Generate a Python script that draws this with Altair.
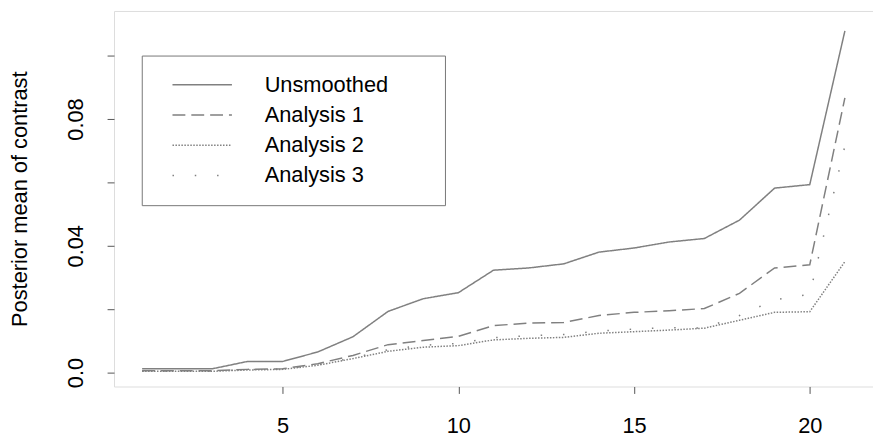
import altair as alt
import pandas as pd

# ---- data ----
index = list(range(1, 22))
series_names = ["Unsmoothed", "Analysis 1", "Analysis 2", "Analysis 3"]
unsmoothed = [0.0012, 0.0012, 0.0012, 0.0035, 0.0035, 0.0065, 0.0113, 0.0193, 0.0233, 0.0252,
              0.0323, 0.0330, 0.0343, 0.0380, 0.0393, 0.0412, 0.0423, 0.0481, 0.0582, 0.0593, 0.1078]
analysis1 = [0.0006, 0.0006, 0.0006, 0.0010, 0.0012, 0.0028, 0.0054, 0.0088, 0.0101, 0.0114,
             0.0148, 0.0156, 0.0158, 0.0180, 0.0190, 0.0195, 0.0202, 0.0250, 0.0330, 0.0340, 0.0867]
analysis2 = [0.0004, 0.0004, 0.0004, 0.0008, 0.0010, 0.0023, 0.0044, 0.0067, 0.0080, 0.0085,
             0.0103, 0.0108, 0.0111, 0.0124, 0.0129, 0.0134, 0.0140, 0.0165, 0.0190, 0.0192, 0.0350]
analysis3 = [0.0005, 0.0005, 0.0005, 0.0009, 0.0011, 0.0025, 0.0046, 0.0072, 0.0086, 0.0092,
             0.0110, 0.0116, 0.0120, 0.0131, 0.0137, 0.0142, 0.0140, 0.0180, 0.0229, 0.0247, 0.0715]
y_tick_values = [0.0, 0.02, 0.04, 0.06, 0.08, 0.10]
y_labelled = ["0.0", "0.04", "0.08"]
x_tick_values = [5, 10, 15, 20]

rows = []
for name, vals in zip(series_names, [unsmoothed, analysis1, analysis2, analysis3]):
    for i, v in zip(index, vals):
        rows.append({"index": i, "value": v, "series": name})
df = pd.DataFrame(rows)

FONT = "Liberation Sans"
GREY = "#808080"
PAD = "\u00a0\u2800\u2800"  # blank glyphs: widen the legend box to the right

y_label_expr = (
    "indexof(" + str(y_labelled) + ", datum.value == 0 ? '0.0' : format(datum.value, '.2f')) >= 0"
    " ? (datum.value == 0 ? '0.0' : format(datum.value, '.2f')) : ''"
)

lines = alt.Chart(df).mark_line(strokeWidth=1.5, color=GREY).encode(
    x=alt.X("index:Q",
            scale=alt.Scale(domain=[0.2, 21.8], nice=False, zero=False),
            axis=alt.Axis(values=x_tick_values, title=None, grid=False, domain=False,
                          tickSize=7, tickColor="#555", labelFontSize=22, labelFont=FONT,
                          labelColor="black", labelPadding=39, labelBaseline="alphabetic",
                          labelFlush=False)),
    y=alt.Y("value:Q",
            scale=alt.Scale(domain=[-0.0044, 0.1141], nice=False, zero=False),
            axis=alt.Axis(values=y_tick_values, title="Posterior mean of contrast",
                          grid=False, domain=False, tickSize=7, tickColor="#555",
                          labelFontSize=22, labelFont=FONT, labelColor="black",
                          labelAngle=-90, labelAlign="center", labelBaseline="alphabetic",
                          labelPadding=25, labelFlush=False, labelExpr=y_label_expr,
                          titleFontSize=22, titleFont=FONT, titleFontWeight="normal",
                          titleColor="black", titleX=-88, titleY=189.5,
                          titleBaseline="alphabetic", titleAngle=270, titleAlign="center")),
    strokeDash=alt.StrokeDash("series:N",
                              scale=alt.Scale(domain=series_names,
                                              range=[[1, 0], [13, 6], [1.5, 1.5], [1.5, 21]]),
                              sort=series_names,
                              legend=alt.Legend(title=None,
                                                orient="none", legendX=28, legendY=45,
                                                symbolType="stroke", symbolSize=3600,
                                                symbolStrokeWidth=1.5, symbolStrokeColor=GREY,
                                                symbolOffset=11.5, clipHeight=22,
                                                labelFontSize=22, labelFont=FONT, labelColor="black",
                                                labelOffset=32, padding=18.5, rowPadding=8.5,
                                                labelLimit=0,
                                                labelExpr="datum.label + '" + PAD + "'",
                                                strokeColor="#777", fillColor="white")),
    detail="series:N",
)

chart = lines.properties(
    width=766, height=379,
    padding={"left": 107, "top": 1, "right": 0, "bottom": 51},
    autosize=alt.AutoSizeParams(type="none"),
).configure_view(stroke="#555", strokeWidth=1).configure(background="white")

chart.save("out.html", embed_options={"renderer": "svg", "actions": False})
